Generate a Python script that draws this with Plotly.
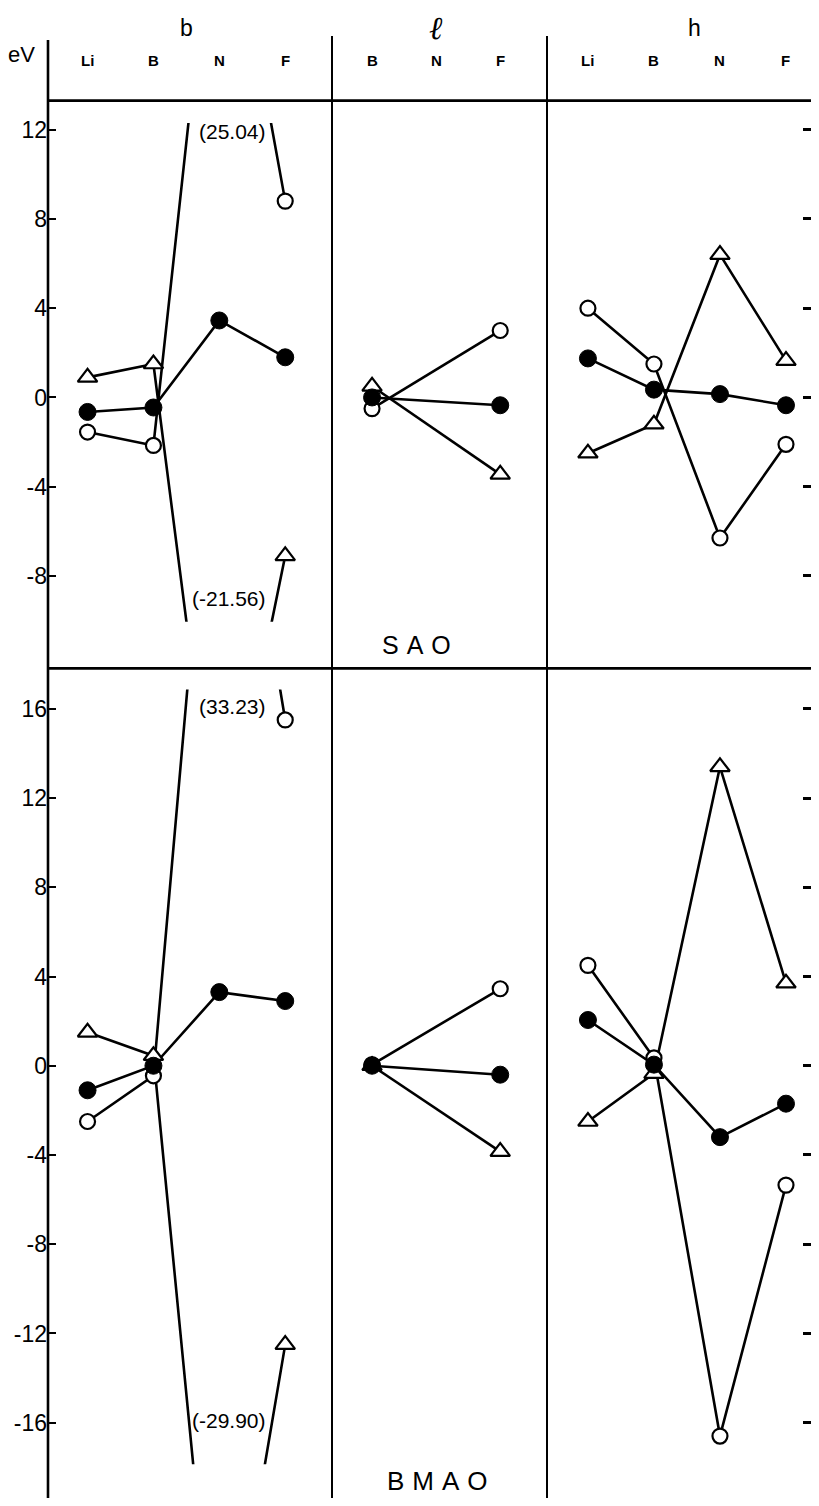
import plotly.graph_objects as go

# window size and default page margin of the html body
W, H = 819, 1506
OFF = 8
FW, FH = W - OFF, H - 2 * OFF   # keep the page from overflowing vertically
BOTTOM = OFF + FH                # lowest screen pixel covered by the figure
RIGHT_VISIBLE = 811              # right-most screen column that is shown

# ---------------- categories / labels ----------------
cat_b = ["Li", "B", "N", "F"]
cat_l = ["B", "N", "F"]
cat_h = ["Li", "B", "N", "F"]
panel_titles = ["b", "<i>ℓ</i>", "h"]
row_labels = ["SAO", "BMAO"]

yticks_sao = [12, 8, 4, 0, -4, -8]
yticks_bmao = [16, 12, 8, 4, 0, -4, -8, -12, -16]

# ---------------- data (eV) ----------------
# SAO (upper half)
sao_b_open = [-1.55, -2.15, 25.04, 8.8]
sao_b_filled = [-0.65, -0.45, 3.45, 1.8]
sao_b_tri = [0.9, 1.5, -21.56, -7.1]
sao_l_open = [-0.5, None, 3.0]
sao_l_filled = [0.0, None, -0.35]
sao_l_tri = [0.5, None, -3.45]
sao_h_open = [4.0, 1.5, -6.3, -2.1]
sao_h_filled = [1.75, 0.35, 0.15, -0.35]
sao_h_tri = [-2.5, -1.2, 6.4, 1.65]

# BMAO (lower half)
bmao_b_open = [-2.5, -0.45, 33.23, 15.5]
bmao_b_filled = [-1.1, 0.0, 3.3, 2.9]
bmao_b_tri = [1.5, 0.45, -29.90, -12.5]
bmao_l_open = [0.05, None, 3.45]
bmao_l_filled = [0.0, None, -0.4]
bmao_l_tri = [0.0, None, -3.85]
bmao_h_open = [4.5, 0.35, -16.6, -5.35]
bmao_h_filled = [2.05, 0.05, -3.2, -1.7]
bmao_h_tri = [-2.5, -0.35, 13.4, 3.7]

# off-scale values annotated in the b panels
off_sao = [sao_b_open[2], sao_b_tri[2]]
off_bmao = [bmao_b_open[2], bmao_b_tri[2]]

# ---------------- geometry (screen pixels) ----------------
PXU = 22.4                       # px per eV
ZERO = {1: 393, 2: 1064}         # pixel row of 0 eV
ROW_PX = {1: (95, 665), 2: (665, BOTTOM)}
CLIP_B = {1: (-10.05, 12.3), 2: (-17.86, 16.86)}
COL_PX = [(48, 332), (332, 547), (547, 819)]
XRANGE = [(-0.6, 3.71), (-0.625, 2.73), (-0.62, 3.5)]
CATS = [cat_b, cat_l, cat_h]


def xp(px):
    return (px - OFF) / FW


def yp(py):
    return 1 - (py - OFF) / FH


fig = go.Figure()

layout = dict(
    width=FW, height=FH, autosize=False,
    margin=dict(l=0, r=0, t=0, b=0),
    paper_bgcolor="white", plot_bgcolor="rgba(0,0,0,0)",
    showlegend=False,
    font=dict(family="Liberation Sans", color="black"),
)

for r in (1, 2):
    ticks = yticks_sao if r == 1 else yticks_bmao
    for c in range(3):
        n = (r - 1) * 3 + c + 1
        top, bot = ROW_PX[r]
        if c == 0:
            lo, hi = CLIP_B[r]
        else:
            lo, hi = (ZERO[r] - bot) / PXU, (ZERO[r] - top) / PXU
        ydom = [max(0, yp(ZERO[r] - lo * PXU)), min(1, yp(ZERO[r] - hi * PXU))]
        xs = "" if n == 1 else str(n)
        layout["xaxis" + xs] = dict(
            domain=[xp(COL_PX[c][0]), min(1, xp(COL_PX[c][1]))],
            anchor="y" + xs, type="category",
            categoryorder="array", categoryarray=CATS[c],
            range=list(XRANGE[c]), showticklabels=False, ticks="",
            showgrid=False, zeroline=False, showline=False, fixedrange=True,
        )
        yax = dict(
            domain=ydom, anchor="x" + xs, range=[lo, hi],
            showgrid=False, zeroline=False, showline=False, fixedrange=True,
        )
        if c == 0:
            yax.update(tickvals=ticks, ticktext=[str(t) for t in ticks],
                       ticks="inside", ticklen=8, tickwidth=2, tickcolor="black",
                       tickfont=dict(size=23, family="Liberation Sans", color="black"))
        elif c == 2:
            # short ticks hanging from the right edge
            yax.update(anchor="free", position=xp(RIGHT_VISIBLE), side="left",
                       tickvals=ticks, ticks="outside", ticklen=8,
                       tickwidth=2.5, tickcolor="black", showticklabels=False)
        else:
            yax.update(showticklabels=False, ticks="")
        layout["yaxis" + xs] = yax

series = {
    (1, 0): (sao_b_open, sao_b_tri, sao_b_filled),
    (1, 1): (sao_l_open, sao_l_tri, sao_l_filled),
    (1, 2): (sao_h_open, sao_h_tri, sao_h_filled),
    (2, 0): (bmao_b_open, bmao_b_tri, bmao_b_filled),
    (2, 1): (bmao_l_open, bmao_l_tri, bmao_l_filled),
    (2, 2): (bmao_h_open, bmao_h_tri, bmao_h_filled),
}

marker_styles = [
    dict(symbol="circle", size=15, color="white", line=dict(color="black", width=2.2)),
    dict(symbol="triangle-up", size=17, color="white", line=dict(color="black", width=2.2)),
    dict(symbol="circle", size=17, color="black", line=dict(color="black", width=1)),
]

# lines first
for (r, c), sers in series.items():
    n = (r - 1) * 3 + c + 1
    xs = "" if n == 1 else str(n)
    for vals in sers:
        fig.add_trace(go.Scatter(x=CATS[c], y=vals, mode="lines", connectgaps=True,
                                 line=dict(color="black", width=2.6),
                                 xaxis="x" + xs, yaxis="y" + xs, hoverinfo="skip"))
# markers on top
for (r, c), sers in series.items():
    n = (r - 1) * 3 + c + 1
    xs = "" if n == 1 else str(n)
    for vals, ms in zip(sers, marker_styles):
        fig.add_trace(go.Scatter(x=CATS[c], y=vals, mode="markers",
                                 marker=ms, cliponaxis=False,
                                 xaxis="x" + xs, yaxis="y" + xs))

# ---------------- frame lines ----------------
shapes = []
lw = dict(color="black", width=2.6)
shapes.append(dict(type="line", xref="paper", yref="paper", x0=xp(48), x1=xp(48), y0=yp(34), y1=0, line=lw))
shapes.append(dict(type="line", xref="paper", yref="paper", x0=xp(332), x1=xp(332), y0=yp(30), y1=0, line=dict(color="black", width=2)))
shapes.append(dict(type="line", xref="paper", yref="paper", x0=xp(547), x1=xp(547), y0=yp(30), y1=0, line=dict(color="black", width=2)))
for py in (95, 665):
    shapes.append(dict(type="line", xref="paper", yref="paper", x0=xp(48), x1=1, y0=yp(py), y1=yp(py), line=lw))
layout["shapes"] = shapes

# ---------------- annotations ----------------
ann = []
title_pos = [1.5, 1.0, 1.62]
for c in range(3):
    xs = "x" if c == 0 else "x" + str(c + 1)
    ann.append(dict(x=title_pos[c], xref=xs, y=yp(22), yref="paper", text=panel_titles[c],
                    showarrow=False, xanchor="center", yanchor="middle",
                    font=dict(size=32 if c == 1 else 23,
                              family="DejaVu Serif" if c == 1 else "Liberation Sans")))
    for cat in CATS[c]:
        ann.append(dict(x=cat, xref=xs, y=yp(55), yref="paper", text="<b>%s</b>" % cat,
                        showarrow=False, xanchor="center", yanchor="middle",
                        font=dict(size=15, family="Liberation Sans")))
ann.append(dict(x=xp(22), xref="paper", y=yp(49), yref="paper", text="eV", showarrow=False,
                xanchor="center", yanchor="middle", font=dict(size=22, family="Liberation Sans")))

# off-scale value labels
lab_font = dict(size=21, family="Liberation Sans")
ann.append(dict(x=2.2, xref="x", y=11.9, yref="y", text="(%.2f)" % off_sao[0], showarrow=False,
                xanchor="center", yanchor="middle", font=lab_font))
ann.append(dict(x=2.15, xref="x", y=-9.0, yref="y", text="(%.2f)" % off_sao[1], showarrow=False,
                xanchor="center", yanchor="middle", font=lab_font))
ann.append(dict(x=2.2, xref="x4", y=16.1, yref="y4", text="(%.2f)" % off_bmao[0], showarrow=False,
                xanchor="center", yanchor="middle", font=lab_font))
ann.append(dict(x=2.15, xref="x4", y=-15.9, yref="y4", text="(%.2f)" % off_bmao[1], showarrow=False,
                xanchor="center", yanchor="middle", font=lab_font))

# row labels
ann.append(dict(x=0.75, xref="x2", y=-11.1, yref="y2",
                text='<span style="letter-spacing:8px">%s</span>' % row_labels[0],
                showarrow=False, xanchor="center", yanchor="middle", font=dict(size=25)))
ann.append(dict(x=1.08, xref="x5", y=-18.6, yref="y5",
                text='<span style="letter-spacing:8px">%s</span>' % row_labels[1],
                showarrow=False, xanchor="center", yanchor="middle", font=dict(size=26)))
layout["annotations"] = ann

fig.update_layout(**layout)
fig.write_html("out.html")
